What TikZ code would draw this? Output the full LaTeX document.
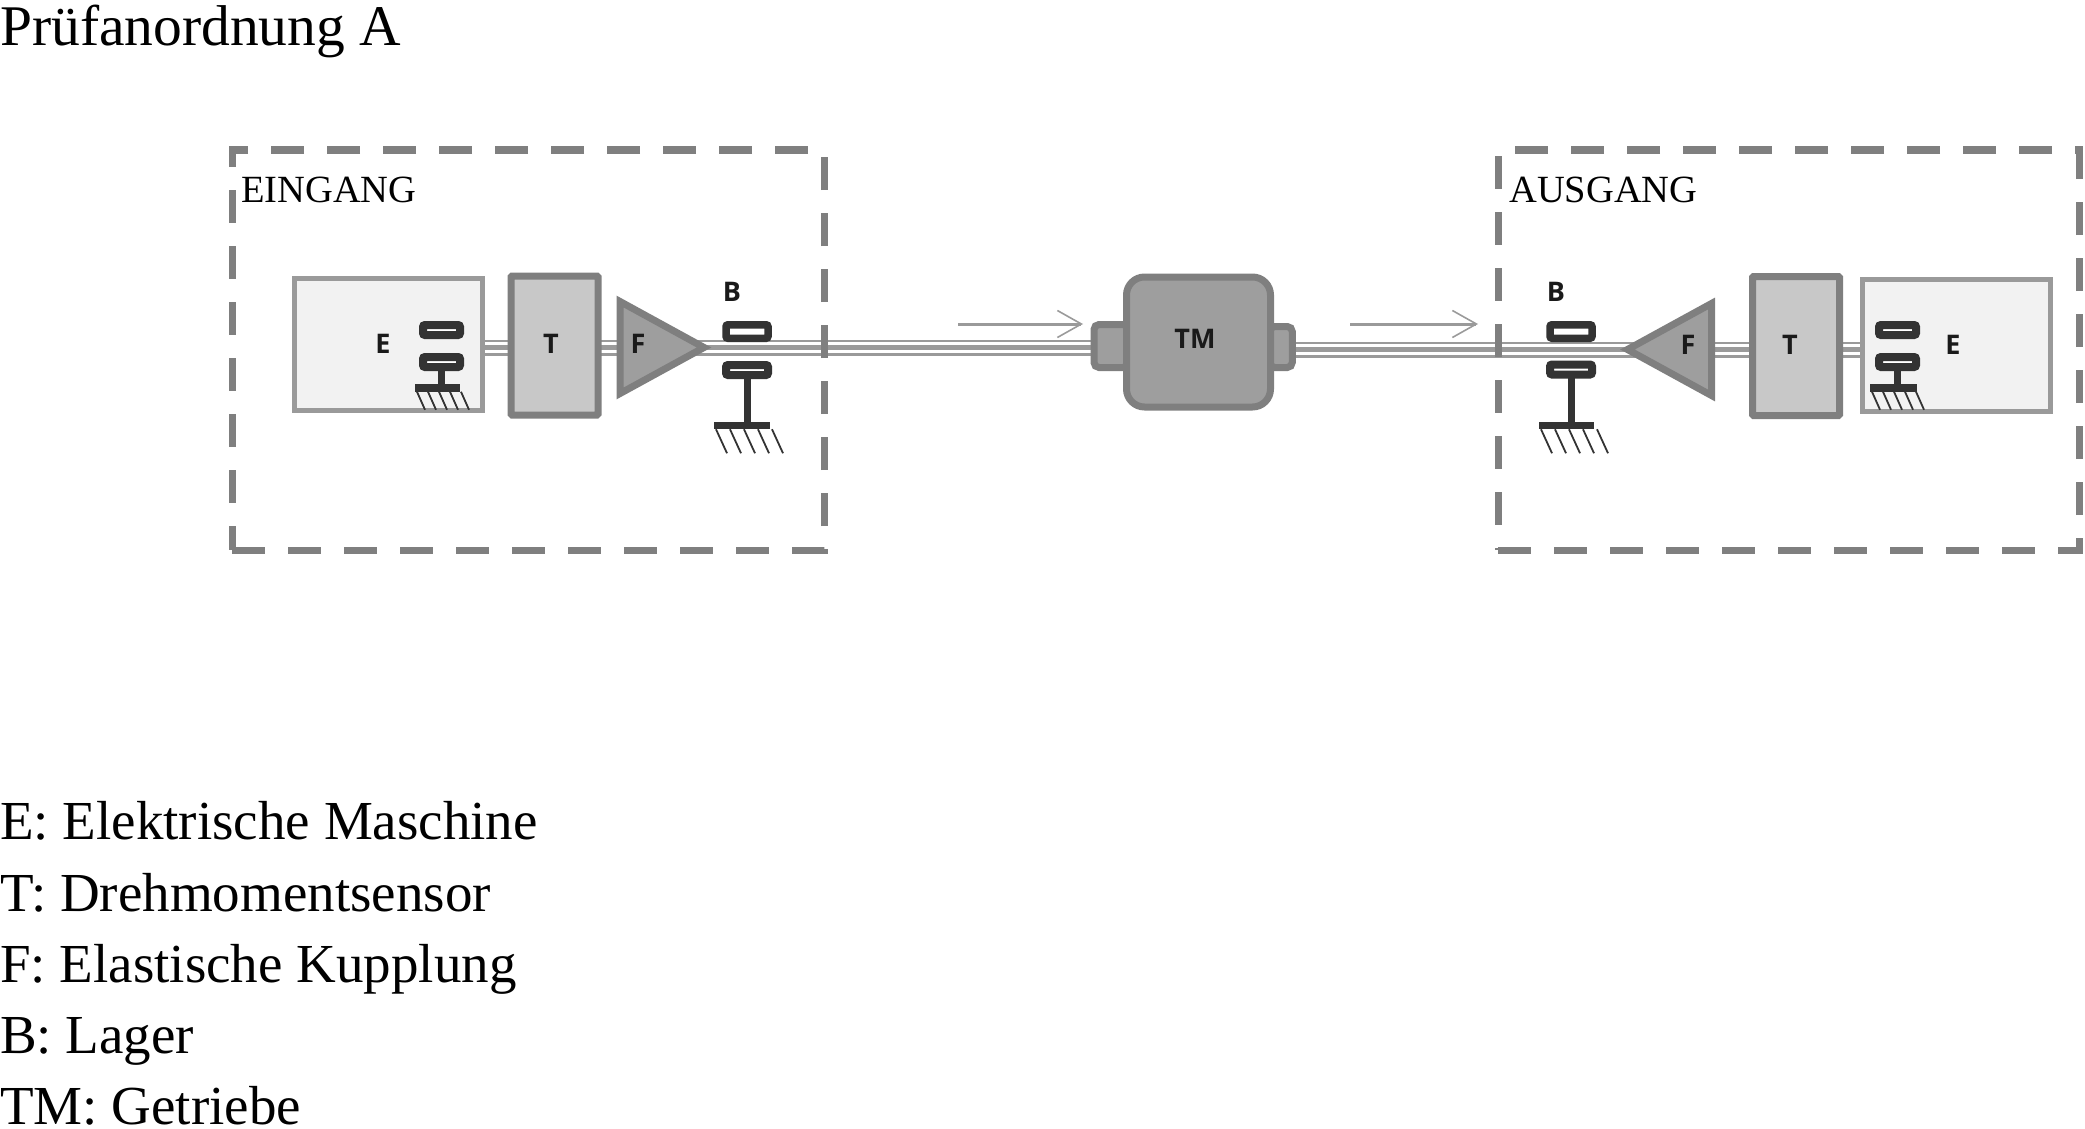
\documentclass[tikz,border=0pt]{standalone}
\usepackage{fontspec}
\setmainfont{Liberation Serif}
\newfontfamily\labelfont{Open Sans}
\usetikzlibrary{positioning, shapes.geometric, arrows.meta, backgrounds}
\definecolor{framegray}{HTML}{7F7F7F}
\definecolor{shaftgray}{HTML}{9A9A9A}
\definecolor{motorfill}{HTML}{F2F2F2}
\definecolor{sensorfill}{HTML}{C8C8C8}
\definecolor{gearfill}{HTML}{9E9E9E}
\definecolor{bearingdark}{HTML}{333333}
\definecolor{labeldark}{HTML}{1A1A1A}
\tikzset{
    base/.style={draw, inner sep=0pt, outer sep=0pt},
    stationframe/.style={base, draw=framegray, line width=7pt, dash pattern=on 33pt off 23pt, minimum width=592pt, minimum height=400pt},
    motorbox/.style={base, draw=shaftgray, fill=motorfill, line width=5pt, minimum width=188pt, minimum height=132pt},
    sensorbox/.style={base, draw=framegray, fill=sensorfill, line width=7pt, rounded corners=1pt, minimum width=87pt, minimum height=139pt},
    coupling/.style={base, draw=framegray, fill=gearfill, line width=7pt, isosceles triangle, isosceles triangle stretches, minimum height=84pt, minimum width=92pt, anchor=apex},
    gearbox/.style={base, draw=framegray, fill=gearfill, line width=7pt, rounded corners=18pt, minimum width=144pt, minimum height=130pt},
    gearstub/.style={base, draw=framegray, fill=gearfill, line width=7pt, rounded corners=5pt},
    padthick/.style={base, draw=bearingdark, fill=white, line width=7.5pt, rounded corners=2pt, minimum width=42pt, minimum height=13.5pt},
    padthin/.style={base, draw=bearingdark, fill=white, line width=8pt, rounded corners=2pt, minimum width=42pt, minimum height=10pt},
    groundbar/.style={base, draw=none, fill=bearingdark, minimum height=7.5pt},
    stem/.style={draw=bearingdark, line width=7pt},
    hatchline/.style={draw=bearingdark, line width=1.8pt},
    shaft/.style={draw=shaftgray, line width=5pt, preaction={draw=shaftgray, line width=16pt}, preaction={draw=white, line width=11pt}},
    flowarrow/.style={draw=shaftgray, line width=3pt, -{Straight Barb[length=24pt, width=27pt, line width=1.6pt]}},
    partlabel/.style={font=\labelfont\bfseries\fontsize{27}{27}\selectfont, text=labeldark, inner sep=0pt},
    framelabel/.style={font=\fontsize{38.5}{38.5}\selectfont, inner sep=0pt, anchor=base west},
    sheettext/.style={font=\fontsize{55}{71.2}\selectfont, inner sep=0pt, align=left}
}
% hatching under a ground bar: node, spacing, slant, depth
\newcommand{\groundhatch}[4]{\foreach \n in {0,...,4}
    \draw [hatchline] ([xshift=#2pt*\n+2pt]#1.south west) -- ++(#3,#4);}

\begin{document}
\begin{tikzpicture}[x=1pt, y=-1pt]
    \useasboundingbox (0,0) rectangle (2085,1129);

    % Headline
    \node [sheettext, font=\fontsize{57.5}{60}\selectfont, anchor=base west] (title) at (0,46) {Prüfanordnung A};

    % Input side
    \node [stationframe] (inframe) at (528,350) {};
    \node [framelabel] (inname) at (241,202) {EINGANG};
    \node [motorbox] (inE) at (388,344.5) {};
    \node [sensorbox] (inT) at (554.5,345.5) {};
    \node [coupling, shape border rotate=0] (inF) at (704,347.5) {};
    \node [padthick] (inBa) at (747,331.5) {};
    \node [padthin] (inBb) at (747,370) {};
    \node [groundbar, minimum width=56pt] (inBg) at (742,425.5) {};
    \node [padthin, minimum width=37pt] (inEa) at (441.5,330) {};
    \node [padthin, minimum width=37pt] (inEb) at (441.5,362) {};
    \node [groundbar, minimum width=45pt] (inEg) at (437.5,388) {};
    \node [partlabel] (inlE) at (383,344) {E};
    \node [partlabel] (inlT) at (551,344) {T};
    \node [partlabel] (inlF) at (638,344) {F};
    \node [partlabel] (inlB) at (732,292) {B};

    % Gearbox
    \node [gearstub, minimum width=34pt, minimum height=43pt] (stubL) at (1111,346) {};
    \node [gearstub, minimum width=22.5pt, minimum height=41pt] (stubR) at (1281,347) {};
    \node [gearbox] (TM) at (1198.5,342) {};
    \node [partlabel] (TMl) at (1195,339) {TM};

    % Output side
    \node [stationframe, minimum width=581pt] (outframe) at (1788.5,350) {};
    \node [framelabel] (outname) at (1509,202) {AUSGANG};
    \node [motorbox] (outE) at (1956.5,345) {};
    \node [sensorbox] (outT) at (1796,346) {};
    \node [coupling, shape border rotate=180] (outF) at (1627.5,349.5) {};
    \node [padthick] (outBa) at (1571,331.5) {};
    \node [padthin] (outBb) at (1571,369.5) {};
    \node [groundbar, minimum width=55pt] (outBg) at (1566.5,425.5) {};
    \node [padthin, minimum width=37pt] (outEa) at (1897.5,330) {};
    \node [padthin, minimum width=37pt] (outEb) at (1897.5,362) {};
    \node [groundbar, minimum width=47pt] (outEg) at (1893.5,388) {};
    \node [partlabel] (outlE) at (1953,345) {E};
    \node [partlabel] (outlT) at (1790,345) {T};
    \node [partlabel] (outlF) at (1688,345) {F};
    \node [partlabel] (outlB) at (1556,292) {B};

    % Shafts
    \begin{scope}[on background layer]
        \draw [shaft] (inE.east |- inF.apex) -- (inF.apex);
        \draw [shaft] (inF.apex) -- (stubL.west |- inF.apex);
        \draw [shaft] (outE.west |- outF.apex) -- (outF.apex);
        \draw [shaft] (outF.apex) -- (stubR.east |- outF.apex);
    \end{scope}

    % Bearing supports
    \draw [stem] (inBb.south) -- (inBb.south |- inBg.north);
    \draw [stem] (inEb.south) -- (inEb.south |- inEg.north);
    \draw [stem] (outBb.south) -- (outBb.south |- outBg.north);
    \draw [stem] (outEb.south) -- (outEb.south |- outEg.north);
    \groundhatch{inBg}{14}{11}{24}
    \groundhatch{outBg}{14}{11}{24}
    \groundhatch{inEg}{11}{8}{18}
    \groundhatch{outEg}{11}{8}{18}

    % Flow arrows
    \coordinate (flowAa) at (958,324);
    \coordinate (flowAb) at (1083,324);
    \coordinate (flowBa) at (1350,324);
    \coordinate (flowBb) at (1478,324);
    \draw [flowarrow] (flowAa) -- (flowAb);
    \draw [flowarrow] (flowBa) -- (flowBb);

    % Legend
    \node [sheettext, anchor=north west] (legend) at (0,801.5) {E: Elektrische Maschine\\T: Drehmomentsensor\\F: Elastische Kupplung\\B: Lager\\TM: Getriebe};
\end{tikzpicture}
\end{document}
